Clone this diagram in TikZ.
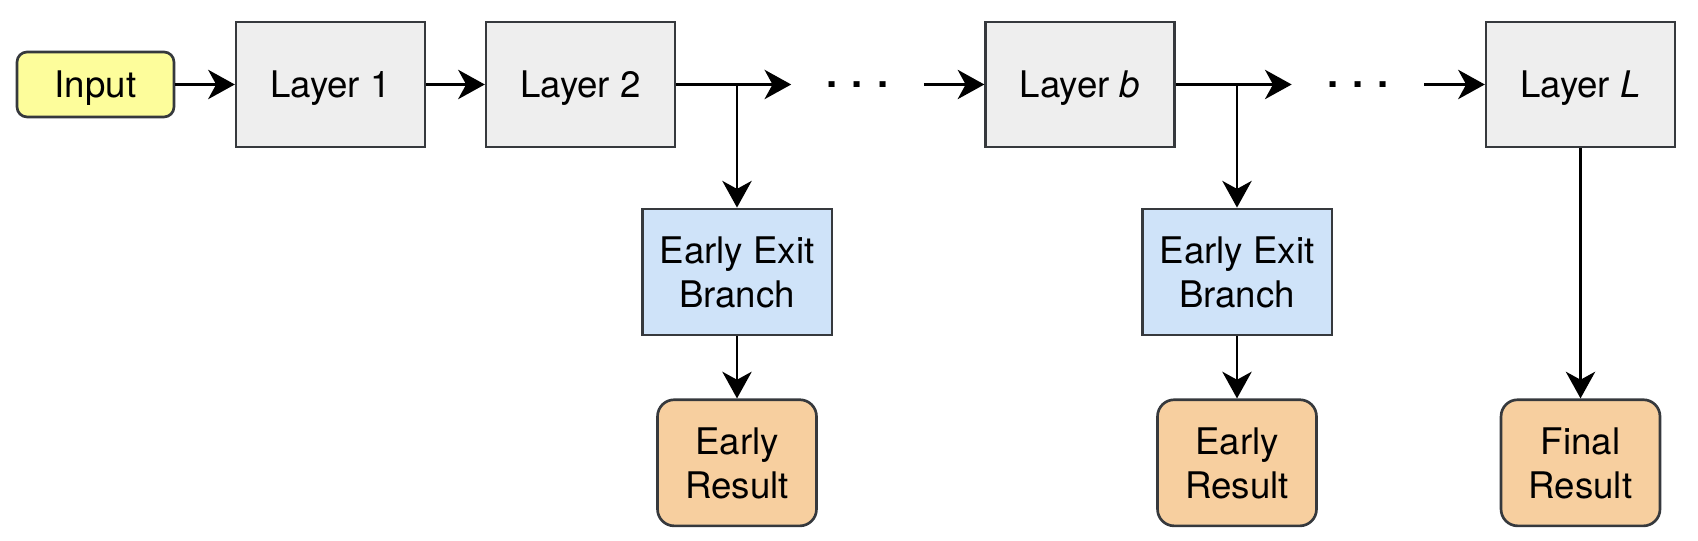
\documentclass[tikz,border=0pt]{standalone}
\usepackage{fontspec}
\setmainfont{TeX Gyre Heros}
\usepackage{tikz}
\usetikzlibrary{positioning,arrows.meta}
\definecolor{edgegray}{HTML}{36393D}
\definecolor{inputyellow}{HTML}{FDFD9B}
\definecolor{layergray}{HTML}{EEEEEE}
\definecolor{exitblue}{HTML}{CFE3F9}
\definecolor{resultorange}{HTML}{F7CF9F}
\tikzset{
  inbox/.style={draw=edgegray, line width=0.8pt, fill=inputyellow, rounded corners=3pt, minimum width=1.655cm, minimum height=0.685cm, text depth=0pt},
  layerbox/.style={draw=edgegray, line width=0.8pt, fill=layergray, minimum width=1.99cm, minimum height=1.32cm, text depth=0pt},
  exitbox/.style={draw=edgegray, line width=0.8pt, fill=exitblue, align=center, minimum width=2.0cm, minimum height=1.33cm, text depth=0pt},
  resultbox/.style={draw=edgegray, line width=0.8pt, fill=resultorange, rounded corners=5pt, align=center, minimum width=1.676cm, minimum height=1.33cm, text depth=0pt},
  gapdots/.style={inner xsep=10.5pt, inner ysep=0pt, font=\fontsize{12pt}{13.2pt}\selectfont\bfseries},
  arrow/.style={-{Stealth[length=8pt, width=8.8pt, inset=2.4pt]}, line width=0.8pt}
}

\begin{document}
\begin{tikzpicture}[font=\fontsize{11pt}{13.2pt}\selectfont]
  \useasboundingbox (0,0) rectangle (17.904,5.694);

  % main chain
  \node[inbox] (inp) at (1.007,4.803) {Input};
  \foreach \n/\x/\t in {L1/3.485/Layer 1, L2/6.121/Layer 2, Lb/11.388/Layer \textit{b}, LL/16.665/Layer \textit{L}} {
    \node[layerbox] (\n) at (\x,4.803) {\t};
  }
  \node[gapdots] (gap1) at (9.042,4.803) {.\hspace{4.2pt}.\hspace{4.2pt}.};
  \node[gapdots] (gap2) at (14.319,4.803) {.\hspace{4.2pt}.\hspace{4.2pt}.};

  % exits
  \node[exitbox] (exit1) at (7.771,2.826) {Early Exit\\Branch};
  \node[exitbox] (exit2) at (13.043,2.826) {Early Exit\\Branch};
  \node[resultbox, below=0.654cm of exit1] (res1) {Early\\Result};
  \node[resultbox, below=0.654cm of exit2] (res2) {Early\\Result};
  \node[resultbox] (fin) at (LL |- res2) {Final\\Result};

  \foreach \u/\v in {inp/L1, L1/L2, L2/gap1, gap1/Lb, Lb/gap2, gap2/LL, exit1/res1, exit2/res2, LL/fin} {\draw[arrow] (\u) -- (\v);}
  \draw[arrow] (exit1 |- L2) -- (exit1);
  \draw[arrow] (exit2 |- Lb) -- (exit2);
\end{tikzpicture}
\end{document}
